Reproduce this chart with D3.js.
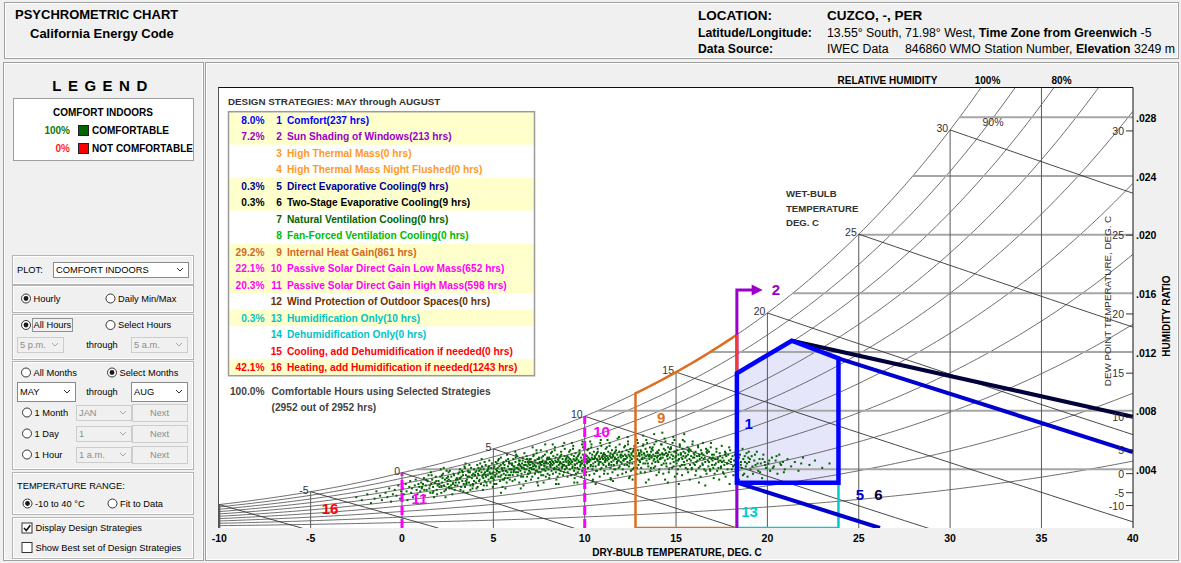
<!DOCTYPE html>
<html><head><meta charset="utf-8">
<script src="https://cdn.jsdelivr.net/npm/d3@7"></script>
<style>
body{margin:0;background:#f0f0f0;}
svg{display:block;font-family:"Liberation Sans",Arial,sans-serif;}
</style></head><body>
<svg id="chart" width="1181" height="563"></svg>
<script>
// ---------- chart values ----------
const dryBulbTicks = [-10, -5, 0, 5, 10, 15, 20, 25, 30, 35, 40];
const dryBulbGrid = [-10, -5, 0, 5, 10, 15, 20, 25, 30, 35];
const humidityTicks = [0.004, 0.008, 0.012, 0.016, 0.020, 0.024, 0.028];
const humidityTickLabels = [".004", ".008", ".012", ".016", ".020", ".024", ".028"];
const wetBulbLines = [-10, -5, 0, 5, 10, 15, 20, 25, 30];
const wetBulbLabels = [-5, 0, 5, 10, 15, 20, 25, 30];
const dewPointTicks = [-10, -5, 0, 5, 10, 15, 20, 25, 30];
const rhCurves = [0.1, 0.2, 0.3, 0.4, 0.5, 0.6, 0.7, 0.8, 0.9, 1.0];

const strategyNames = [
  "Comfort(237 hrs)", "Sun Shading of Windows(213 hrs)", "High Thermal Mass(0 hrs)",
  "High Thermal Mass Night Flushed(0 hrs)", "Direct Evaporative Cooling(9 hrs)",
  "Two-Stage Evaporative Cooling(9 hrs)", "Natural Ventilation Cooling(0 hrs)",
  "Fan-Forced Ventilation Cooling(0 hrs)", "Internal Heat Gain(861 hrs)",
  "Passive Solar Direct Gain Low Mass(652 hrs)", "Passive Solar Direct Gain High Mass(598 hrs)",
  "Wind Protection of Outdoor Spaces(0 hrs)", "Humidification Only(10 hrs)",
  "Dehumidification Only(0 hrs)", "Cooling, add Dehumidification if needed(0 hrs)",
  "Heating, add Humidification if needed(1243 hrs)"];
const strategyShare = ["8.0%", "7.2%", "", "", "0.3%", "0.3%", "", "", "29.2%", "22.1%", "20.3%", "", "0.3%", "", "", "42.1%"];
const totalShare = "100.0%";
const totalHours = "(2952 out of 2952 hrs)";

// strategy zones in (dry-bulb °C, humidity ratio)
const comfortZone = [[18.33, 0.00309], [18.33, 0.01055], [21.33, 0.01277], [23.89, 0.01157], [23.89, 0.00309]];
const directEvapLine = [[23.89, 0.01157], [40, 0.00518]];
const directEvapLower = [[18.33, 0.00309], [26.16, 0]];
const twoStageLine = [[21.33, 0.01277], [40, 0.00759]];
const heatGainRange = [12.78, 18.33];
const sunShadingEdge = [[18.33, 0], [18.33, 0.01623], [19.25, 0.01623]];
const humidifyZone = [[18.33, 0.00309], [18.33, 0], [23.89, 0], [23.89, 0.00309]];
const passiveLowMassT = 10;
const passiveHighMassT = 0;
const comfortTopLeftW = 0.01055;

// hourly observations, May–August: [dry-bulb °C, humidity ratio ×10⁴]
const hourlyPoints = [
[-2.5,21],[-2.2,19],[-1.9,23],[-1.7,17],[-1.5,20],[-1.4,25],[-1.2,22],[-1.1,19],
[-0.9,24],[-0.8,21],[-0.7,27],[-0.6,18],[-0.5,23],[-0.4,26],[-0.3,22],[-0.2,29],[-0.1,20],[-0.05,25],
[0.05,27],[0.1,23],[0.2,30],[0.25,25],[0.3,19],[0.4,28],[0.45,32],[0.5,24],[0.55,27],[0.6,21],[0.7,29],[0.75,33],[0.8,26],[0.85,23],[0.9,30],[0.95,28],
[1.0,25],[1.05,31],[1.1,28],[1.2,34],[1.25,22],[1.3,29],[1.35,26],[1.4,32],[1.45,36],[1.5,27],[1.55,24],[1.6,30],[1.65,33],[1.7,28],[1.75,21],[1.8,31],[1.85,35],[1.9,26],[1.95,29],[1.15,30],[1.58,38],[1.72,25],
[2.0,32],[2.05,28],[2.1,35],[2.15,24],[2.2,31],[2.25,37],[2.3,29],[2.35,33],[2.4,26],[2.45,34],[2.5,30],[2.55,38],[2.6,27],[2.65,32],[2.7,35],[2.75,23],[2.8,31],[2.85,36],[2.9,29],[2.95,33],[2.12,40],[2.38,21],[2.62,39],[2.88,26],[2.48,32],[2.22,34],[2.78,30],[2.58,28],
[3.0,34],[3.03,29],[3.08,37],[3.12,31],[3.17,40],[3.2,26],[3.25,35],[3.3,32],[3.33,38],[3.38,30],[3.42,42],[3.45,28],[3.5,36],[3.55,33],[3.58,24],[3.62,39],[3.67,31],[3.7,35],[3.75,29],[3.78,41],[3.82,34],[3.86,27],[3.9,37],[3.94,32],[3.97,36],[3.15,34],[3.36,25],[3.52,30],[3.64,35],[3.72,38],[3.88,30],[3.48,44],
[4.0,36],[4.04,31],[4.07,39],[4.1,34],[4.14,28],[4.18,41],[4.2,36],[4.25,33],[4.28,44],[4.32,30],[4.35,38],[4.4,35],[4.43,26],[4.47,40],[4.5,37],[4.53,32],[4.58,43],[4.6,35],[4.64,29],[4.68,39],[4.7,36],[4.74,33],[4.78,46],[4.8,38],[4.84,31],[4.88,41],[4.9,35],[4.94,37],[4.97,28],[4.22,39],[4.38,42],[4.55,38],[4.72,40],[4.86,34],[4.45,34],
[5.0,38],[5.03,33],[5.06,42],[5.1,36],[5.13,45],[5.16,30],[5.2,39],[5.24,41],[5.27,35],[5.3,47],[5.34,38],[5.37,32],[5.4,43],[5.44,36],[5.47,40],[5.5,28],[5.53,44],[5.57,37],[5.6,41],[5.63,34],[5.67,39],[5.7,46],[5.73,31],[5.77,38],[5.8,42],[5.83,36],[5.87,40],[5.9,33],[5.93,44],[5.97,38],[5.15,40],[5.33,42],[5.52,39],[5.68,36],[5.85,45],[5.42,24],[5.75,50],[5.58,33],
[6.0,40],[6.03,44],[6.06,36],[6.09,47],[6.12,39],[6.15,42],[6.18,33],[6.21,45],[6.24,38],[6.27,41],[6.3,49],[6.33,36],[6.36,43],[6.39,40],[6.42,31],[6.45,46],[6.48,39],[6.51,42],[6.54,37],[6.57,44],[6.6,48],[6.63,35],[6.66,41],[6.69,43],[6.72,38],[6.75,45],[6.78,32],[6.81,40],[6.84,47],[6.87,42],[6.9,37],[6.93,44],[6.96,39],[6.99,41],[6.2,52],[6.5,27],[6.7,51],[6.4,46],[6.85,35],[6.1,42],
[7.0,43],[7.02,38],[7.05,47],[7.08,41],[7.1,45],[7.13,35],[7.16,44],[7.19,49],[7.22,40],[7.25,43],[7.28,37],[7.31,46],[7.34,42],[7.37,51],[7.4,39],[7.43,44],[7.46,34],[7.49,47],[7.52,41],[7.55,45],[7.58,38],[7.61,43],[7.64,48],[7.67,40],[7.7,46],[7.73,36],[7.76,44],[7.79,42],[7.82,50],[7.85,39],[7.88,45],[7.91,41],[7.94,47],[7.97,37],[7.15,55],[7.45,29],[7.6,53],[7.75,31],[7.9,44],[7.3,42],[7.5,48],[7.85,45],
[8.0,44],[8.02,40],[8.05,48],[8.07,36],[8.1,45],[8.13,42],[8.15,51],[8.18,39],[8.2,46],[8.23,43],[8.26,37],[8.28,49],[8.31,44],[8.34,41],[8.36,53],[8.39,46],[8.42,38],[8.44,45],[8.47,42],[8.5,50],[8.52,35],[8.55,47],[8.58,43],[8.6,40],[8.63,48],[8.66,45],[8.68,39],[8.71,52],[8.74,44],[8.76,41],[8.79,47],[8.82,36],[8.84,45],[8.87,43],[8.9,49],[8.92,40],[8.95,46],[8.98,42],[8.25,57],[8.57,30],[8.8,56],[8.45,33],[8.65,44],[8.12,47],
[9.0,45],[9.02,41],[9.05,49],[9.07,38],[9.1,46],[9.13,43],[9.15,52],[9.18,40],[9.2,47],[9.23,44],[9.26,36],[9.28,50],[9.31,45],[9.34,42],[9.36,54],[9.39,47],[9.42,39],[9.44,46],[9.47,43],[9.5,51],[9.52,37],[9.55,48],[9.58,44],[9.6,41],[9.63,49],[9.66,46],[9.68,40],[9.71,53],[9.74,45],[9.76,42],[9.79,48],[9.82,35],[9.84,46],[9.87,44],[9.9,50],[9.92,41],[9.95,47],[9.98,43],[9.3,58],[9.6,31],[9.85,57],[9.45,34],[9.7,45],[9.12,48],
[10.0,46],[10.02,42],[10.05,50],[10.07,38],[10.1,47],[10.13,44],[10.15,53],[10.18,41],[10.2,48],[10.23,45],[10.26,36],[10.28,51],[10.31,46],[10.34,43],[10.36,55],[10.39,48],[10.42,40],[10.44,47],[10.47,44],[10.5,52],[10.52,37],[10.55,49],[10.58,45],[10.6,42],[10.63,50],[10.66,47],[10.68,39],[10.71,54],[10.74,46],[10.76,43],[10.79,49],[10.82,35],[10.84,47],[10.87,45],[10.9,51],[10.92,41],[10.95,48],[10.98,44],[10.3,59],[10.6,30],[10.85,58],[10.45,33],[10.7,46],[10.12,49],
[11.0,47],[11.03,43],[11.05,51],[11.08,39],[11.1,48],[11.12,45],[11.15,54],[11.17,42],[11.2,49],[11.24,46],[11.26,37],[11.29,52],[11.31,47],[11.33,44],[11.36,56],[11.38,49],[11.41,41],[11.44,48],[11.46,45],[11.49,53],[11.52,38],[11.54,50],[11.57,46],[11.6,43],[11.62,51],[11.65,48],[11.68,40],[11.7,55],[11.73,47],[11.76,44],[11.78,50],[11.81,36],[11.84,48],[11.87,46],[11.89,52],[11.92,42],[11.95,49],[11.97,45],[11.25,60],[11.55,32],[11.8,61],[11.42,34],[11.66,47],[11.11,50],
[12.0,48],[12.03,44],[12.05,52],[12.08,40],[12.1,49],[12.13,46],[12.16,55],[12.18,43],[12.21,50],[12.24,47],[12.26,38],[12.29,53],[12.32,48],[12.34,45],[12.37,57],[12.4,50],[12.42,42],[12.45,49],[12.48,46],[12.5,54],[12.53,39],[12.56,51],[12.58,47],[12.61,44],[12.64,52],[12.66,49],[12.69,41],[12.72,56],[12.74,48],[12.77,45],[12.8,51],[12.83,37],[12.85,49],[12.88,47],[12.91,53],[12.94,43],[12.96,50],[12.99,46],[12.35,62],[12.62,33],[12.86,60],[12.47,35],
[13.0,49],[13.03,45],[13.06,53],[13.09,41],[13.12,50],[13.15,47],[13.18,56],[13.21,44],[13.24,51],[13.27,48],[13.3,38],[13.33,54],[13.36,49],[13.39,46],[13.42,58],[13.45,50],[13.48,42],[13.51,49],[13.54,47],[13.57,55],[13.6,39],[13.63,52],[13.66,48],[13.69,44],[13.72,53],[13.75,50],[13.78,41],[13.81,57],[13.84,49],[13.87,45],[13.9,51],[13.93,36],[13.96,48],[13.99,46],[13.2,63],[13.5,33],[13.8,64],[13.35,31],[13.65,49],[13.1,52],
[14.0,49],[14.03,45],[14.06,53],[14.09,40],[14.12,50],[14.15,47],[14.18,57],[14.21,43],[14.24,51],[14.27,48],[14.3,37],[14.33,54],[14.36,50],[14.39,46],[14.42,59],[14.45,51],[14.48,42],[14.51,49],[14.54,47],[14.57,55],[14.6,38],[14.63,52],[14.66,48],[14.69,44],[14.72,54],[14.75,50],[14.78,41],[14.81,58],[14.84,49],[14.87,45],[14.9,52],[14.93,35],[14.96,48],[14.99,46],[14.25,65],[14.55,31],[14.85,62],[14.4,33],
[15.0,49],[15.03,44],[15.06,53],[15.1,40],[15.13,50],[15.16,47],[15.2,57],[15.23,42],[15.26,51],[15.3,48],[15.33,36],[15.36,54],[15.4,49],[15.43,45],[15.46,59],[15.5,51],[15.53,41],[15.56,49],[15.6,46],[15.63,55],[15.66,38],[15.7,52],[15.73,47],[15.76,43],[15.8,53],[15.83,49],[15.86,40],[15.9,57],[15.93,48],[15.96,44],[15.15,30],[15.45,64],[15.75,33],[15.35,47],[15.65,50],
[16.0,48],[16.03,43],[16.07,52],[16.1,39],[16.14,49],[16.17,46],[16.2,56],[16.24,41],[16.27,50],[16.3,47],[16.34,35],[16.37,53],[16.4,48],[16.44,44],[16.47,58],[16.5,50],[16.54,40],[16.57,48],[16.6,45],[16.64,54],[16.67,37],[16.7,51],[16.74,46],[16.77,42],[16.8,52],[16.84,48],[16.87,39],[16.9,55],[16.94,47],[16.97,43],[16.25,31],[16.6,29],
[17.0,46],[17.04,41],[17.07,50],[17.11,37],[17.14,47],[17.18,44],[17.21,54],[17.25,39],[17.29,48],[17.32,45],[17.36,33],[17.39,51],[17.43,46],[17.46,42],[17.5,56],[17.54,48],[17.57,38],[17.61,46],[17.64,43],[17.68,52],[17.71,35],[17.75,49],[17.79,44],[17.82,40],[17.86,50],[17.89,46],[17.93,30],[17.96,53],
[18.0,45],[18.05,40],[18.09,49],[18.14,36],[18.18,46],[18.23,43],[18.27,52],[18.32,38],[18.36,47],[18.41,44],[18.45,33],[18.5,50],[18.55,45],[18.59,41],[18.64,54],[18.68,47],[18.73,37],[18.77,45],[18.82,42],[18.86,51],[18.91,35],[18.95,48],
[19.0,45],[19.07,40],[19.14,49],[19.21,37],[19.28,46],[19.35,43],[19.42,52],[19.5,39],[19.57,47],[19.64,44],[19.71,34],[19.78,50],[19.85,45],[19.92,41],
[20.05,44],[20.15,39],[20.25,48],[20.35,42],[20.45,46],[20.55,37],[20.65,50],[20.75,43],[20.85,45],[20.95,40],
[21.1,47],[21.3,42],[21.5,45],[21.7,39],[21.85,44],[21.95,48],
[22.3,43],[22.6,46],[23.0,41],[23.4,44],
[1.08,27],[1.33,33],[1.52,29],[1.68,24],[1.88,32],[1.22,26],[1.62,36],[1.92,23],
[2.04,30],[2.18,36],[2.32,25],[2.44,39],[2.56,33],[2.68,29],[2.82,37],[2.94,31],[2.28,41],[2.72,27],[2.16,28],[2.52,35],
[3.04,33],[3.14,38],[3.24,28],[3.34,36],[3.44,41],[3.54,31],[3.64,38],[3.74,26],[3.84,36],[3.94,40],[3.19,34],[3.49,32],[3.69,43],[3.89,29],[3.29,39],[3.59,35],
[4.02,38],[4.12,43],[4.22,32],[4.3,40],[4.42,36],[4.52,45],[4.62,31],[4.73,41],[4.82,37],[4.92,44],[4.08,27],[4.36,47],[4.66,39],[4.96,34],[4.16,37],[4.48,29],[4.76,42],[4.57,36],
[5.02,41],[5.11,35],[5.21,44],[5.31,38],[5.41,48],[5.51,33],[5.61,43],[5.71,39],[5.81,47],[5.91,36],[5.06,30],[5.26,46],[5.46,41],[5.66,27],[5.86,44],[5.96,40],[5.18,37],[5.38,35],[5.56,45],[5.78,34],
[6.02,43],[6.11,38],[6.22,48],[6.31,41],[6.41,44],[6.52,35],[6.61,46],[6.71,40],[6.82,49],[6.92,37],[6.05,32],[6.25,50],[6.45,43],[6.65,29],[6.89,45],[6.98,47],[6.15,40],[6.35,38],[6.56,41],[6.77,43],
[7.01,45],[7.11,40],[7.21,50],[7.32,39],[7.42,47],[7.51,42],[7.62,36],[7.72,49],[7.81,44],[7.92,52],[7.06,33],[7.26,46],[7.47,38],[7.66,45],[7.87,35],[7.96,48],[7.17,42],[7.36,53],[7.57,44],[7.77,40],[7.41,31],[7.84,57],
[8.01,47],[8.11,43],[8.21,52],[8.32,40],[8.41,48],[8.51,45],[8.62,37],[8.72,50],[8.81,43],[8.91,54],[8.06,34],[8.27,45],[8.46,40],[8.67,49],[8.86,38],[8.97,47],[8.16,44],[8.37,55],[8.56,46],[8.77,42],[8.43,30],[8.88,58],
[9.01,48],[9.11,44],[9.21,53],[9.32,41],[9.41,49],[9.51,46],[9.62,38],[9.72,51],[9.81,44],[9.91,55],[9.06,35],[9.27,46],[9.46,41],[9.67,50],[9.86,39],[9.97,48],[9.16,45],[9.37,56],[9.56,47],[9.77,43],[9.43,31],[9.88,59],
[10.01,49],[10.11,45],[10.21,54],[10.32,42],[10.41,50],[10.51,47],[10.62,39],[10.72,52],[10.81,45],[10.91,56],[10.06,36],[10.27,47],[10.46,42],[10.67,51],[10.86,40],[10.97,49],[10.16,46],[10.37,57],[10.56,48],[10.77,44],[10.43,32],[10.88,60],
[11.01,50],[11.11,46],[11.21,55],[11.32,43],[11.41,51],[11.51,48],[11.62,40],[11.72,53],[11.81,46],[11.91,57],[11.06,37],[11.27,48],[11.46,43],[11.67,52],[11.86,41],[11.97,50],[11.16,47],[11.37,58],[11.56,49],[11.77,45],[11.43,33],[11.88,62],
[12.01,50],[12.11,46],[12.21,56],[12.32,43],[12.41,52],[12.51,48],[12.62,40],[12.72,54],[12.81,47],[12.91,58],[12.06,37],[12.27,49],[12.46,44],[12.67,53],[12.86,41],[12.97,51],[12.16,47],[12.37,59],[12.56,50],[12.77,45],[12.43,34],
[13.01,51],[13.11,47],[13.21,57],[13.32,44],[13.41,52],[13.51,49],[13.62,41],[13.72,55],[13.81,47],[13.91,59],[13.06,38],[13.27,50],[13.46,44],[13.67,54],[13.86,42],[13.97,52],[13.16,48],[13.37,60],[13.56,50],[13.77,46],
[14.01,51],[14.11,47],[14.21,57],[14.32,44],[14.41,53],[14.51,49],[14.62,40],[14.72,55],[14.81,47],[14.91,60],[14.06,38],[14.27,50],[14.46,44],[14.67,54],[14.86,42],[14.97,52],[14.16,48],[14.37,61],[14.56,50],
[15.01,51],[15.11,46],[15.21,56],[15.32,43],[15.41,52],[15.51,48],[15.62,40],[15.72,54],[15.81,46],[15.91,59],[15.06,37],[15.27,50],[15.46,43],[15.67,53],[15.86,41],[15.97,51],[15.16,47],[15.37,60],
[16.01,50],[16.11,45],[16.21,55],[16.32,42],[16.41,51],[16.51,47],[16.62,39],[16.72,53],[16.81,45],[16.91,58],[16.06,36],[16.27,49],[16.46,43],[16.67,52],[16.86,40],[16.97,50],
[17.01,48],[17.11,43],[17.21,52],[17.32,41],[17.41,49],[17.51,45],[17.62,37],[17.72,51],[17.81,44],[17.91,55],[17.06,34],[17.27,47],[17.46,41],[17.67,50],
[18.02,47],[18.12,42],[18.22,50],[18.34,40],[18.44,48],[18.54,43],[18.66,36],[18.76,49],[18.88,44],[18.98,52],
[19.04,47],[19.18,42],[19.32,50],[19.46,44],[19.6,38],[19.74,47],[19.88,43],
[20.1,46],[20.3,41],[20.5,49],[20.7,44],[20.9,38]
];

// ---------- psychrometrics (sea-level pressure) ----------
const P_ATM = 101.325;
function pws(t) {
  return t >= 0 ? 0.61094 * Math.exp(17.625 * t / (t + 243.04))
                : 0.61115 * Math.exp(22.452 * t / (272.55 + t));
}
function wAt(t, rh) { const pw = rh * pws(t); return 0.622 * pw / (P_ATM - pw); }
function wWetBulb(t, twb) {
  const ws = wAt(twb, 1);
  if (twb >= 0) return ((2501 - 2.326 * twb) * ws - 1.006 * (t - twb)) / (2501 + 1.86 * t - 4.186 * twb);
  return ((2830 - 0.24 * twb) * ws - 1.006 * (t - twb)) / (2830 + 1.86 * t - 2.1 * twb);
}
function tAtSaturation(w) {
  let lo = -20, hi = 60;
  for (let i = 0; i < 60; i++) { const m = (lo + hi) / 2; if (wAt(m, 1) < w) lo = m; else hi = m; }
  return (lo + hi) / 2;
}

// ---------- drawing ----------
const svg = d3.select("#chart");

function txt(g, x, y, s, o = {}) {
  const t = g.append("text").attr("x", x).attr("y", y).text(s)
    .attr("font-size", o.size || 10)
    .attr("fill", o.fill || "#000")
    .attr("text-anchor", o.anchor || "start");
  if (o.bold) t.attr("font-weight", "bold");
  if (o.ls) t.attr("letter-spacing", o.ls);
  return t;
}
function frame(x, yy, w, h) {
  svg.append("rect").attr("x", x + 0.5).attr("y", yy + 0.5).attr("width", w).attr("height", h)
    .attr("fill", "none").attr("stroke", "#a0a0a0");
  svg.append("rect").attr("x", x + 1.5).attr("y", yy + 1.5).attr("width", w - 2).attr("height", h - 2)
    .attr("fill", "none").attr("stroke", "#ffffff");
}

// header
frame(4, 2, 1174, 56);
const head = svg.append("g");
txt(head, 15, 19, "PSYCHROMETRIC CHART", { size: 13, bold: true });
txt(head, 30, 37.5, "California Energy Code", { size: 13, bold: true });
txt(head, 698, 20, "LOCATION:", { size: 13.5, bold: true });
txt(head, 827, 20, "CUZCO, -, PER", { size: 13.5, bold: true });
txt(head, 698, 37, "Latitude/Longitude:", { size: 12.2, bold: true });
const lat = txt(head, 827, 37, "", { size: 12.3 });
lat.append("tspan").text("13.55° South, 71.98° West, ");
lat.append("tspan").attr("font-weight", "bold").text("Time Zone from Greenwich");
lat.append("tspan").text(" -5");
txt(head, 698, 53, "Data Source:", { size: 12.2, bold: true });
const src = txt(head, 827, 53, "", { size: 12.3 });
src.append("tspan").text("IWEC Data");
src.append("tspan").attr("x", 905).text("846860 WMO Station Number, ");
src.append("tspan").attr("font-weight", "bold").text("Elevation");
src.append("tspan").text(" 3249 m");

// left control panel
frame(3, 62, 200, 498);
const lp = svg.append("g");
txt(lp, 103, 91, "LEGEND", { size: 15, bold: true, anchor: "middle", ls: 6.5 });
lp.append("rect").attr("x", 13.5).attr("y", 98.5).attr("width", 180).attr("height", 62)
  .attr("fill", "#fff").attr("stroke", "#a0a0a0");
txt(lp, 103, 115.5, "COMFORT INDOORS", { size: 10, bold: true, anchor: "middle" });
txt(lp, 70, 133.5, "100%", { size: 10, bold: true, anchor: "end", fill: "#0a7a0a" });
lp.append("rect").attr("x", 78.5).attr("y", 125.5).attr("width", 10).attr("height", 10).attr("fill", "#006400").attr("stroke", "#222");
txt(lp, 92, 133.5, "COMFORTABLE", { size: 10, bold: true });
txt(lp, 70, 151.5, "0%", { size: 10, bold: true, anchor: "end", fill: "#ff1a1a" });
lp.append("rect").attr("x", 78.5).attr("y", 143.5).attr("width", 10).attr("height", 10).attr("fill", "#ff0000").attr("stroke", "#222");
txt(lp, 92, 151.5, "NOT COMFORTABLE", { size: 10, bold: true });

[[255, 29], [285, 27], [314, 45], [361, 108], [472, 42], [517, 41]].forEach(([yy, h]) => {
  lp.append("rect").attr("x", 12.5).attr("y", yy + 0.5).attr("width", 181).attr("height", h)
    .attr("fill", "none").attr("stroke", "#b4b4b4");
  lp.append("rect").attr("x", 13.5).attr("y", yy + 1.5).attr("width", 179).attr("height", h - 2)
    .attr("fill", "none").attr("stroke", "#ffffff");
});

const PS = 9.3;
function dropdown(x, yy, w, h, label, enabled) {
  lp.append("rect").attr("x", x + 0.5).attr("y", yy + 0.5).attr("width", w).attr("height", h)
    .attr("fill", enabled ? "#fff" : "#f0f0f0").attr("stroke", enabled ? "#8a8a8a" : "#cccccc");
  txt(lp, x + 3, yy + h / 2 + 3.3, label, { size: PS, fill: enabled ? "#000" : "#8c8c8c" });
  const cx = x + w - 8, cy = yy + h / 2;
  lp.append("path").attr("d", `M${cx - 3},${cy - 1.5}L${cx},${cy + 1.5}L${cx + 3},${cy - 1.5}`)
    .attr("fill", "none").attr("stroke", enabled ? "#333" : "#a8a8a8").attr("stroke-width", 1);
}
function button(x, yy, w, h, label) {
  lp.append("rect").attr("x", x + 0.5).attr("y", yy + 0.5).attr("width", w).attr("height", h)
    .attr("fill", "#f0f0f0").attr("stroke", "#cccccc");
  txt(lp, x + w / 2, yy + h / 2 + 3.3, label, { size: PS, fill: "#8c8c8c", anchor: "middle" });
}
function radio(cx, cy, label, on) {
  lp.append("circle").attr("cx", cx).attr("cy", cy).attr("r", 4.5).attr("fill", "#fff").attr("stroke", "#333");
  if (on) lp.append("circle").attr("cx", cx).attr("cy", cy).attr("r", 2.4).attr("fill", "#1a1a1a");
  return txt(lp, cx + 7.5, cy + 3.3, label, { size: PS });
}
function checkbox(x, cy, label, on) {
  lp.append("rect").attr("x", x + 0.5).attr("y", cy - 5).attr("width", 10).attr("height", 10).attr("fill", "#fff").attr("stroke", "#333");
  if (on) lp.append("path").attr("d", `M${x + 2.5},${cy}L${x + 4.8},${cy + 2.5}L${x + 8.8},${cy - 2.8}`)
    .attr("fill", "none").attr("stroke", "#111").attr("stroke-width", 1.6);
  txt(lp, x + 14, cy + 3.3, label, { size: PS });
}
txt(lp, 17, 272.5, "PLOT:", { size: PS });
dropdown(53, 262, 135, 15, "COMFORT INDOORS", true);
radio(26, 298.5, "Hourly", true);
radio(110.5, 298.5, "Daily Min/Max", false);
radio(26, 325, "All Hours", true);
lp.append("rect").attr("x", 32.5).attr("y", 318.5).attr("width", 40).attr("height", 13)
  .attr("fill", "none").attr("stroke", "#333").attr("stroke-dasharray", "1,1");
radio(110.5, 325, "Select Hours", false);
dropdown(17, 337, 46, 15, "5 p.m.", false);
txt(lp, 102, 347.5, "through", { size: PS, anchor: "middle" });
dropdown(131, 337, 56, 15, "5 a.m.", false);
radio(26, 372.5, "All Months", false);
radio(112, 372.5, "Select Months", true);
dropdown(17, 382, 58, 19, "MAY", true);
txt(lp, 102, 395, "through", { size: PS, anchor: "middle" });
dropdown(131, 382, 56, 19, "AUG", true);
radio(27, 412.5, "1 Month", false);
dropdown(76, 405, 55, 15, "JAN", false);
button(132, 404, 55, 17, "Next");
radio(27, 433.5, "1 Day", false);
dropdown(76, 426, 55, 15, "1", false);
button(132, 425, 55, 17, "Next");
radio(27, 454.5, "1 Hour", false);
dropdown(76, 447, 55, 15, "1 a.m.", false);
button(132, 446, 55, 17, "Next");
txt(lp, 17, 488.5, "TEMPERATURE RANGE:", { size: PS });
radio(27.5, 503.5, "-10 to 40 °C", true);
radio(112.5, 503.5, "Fit to Data", false);
checkbox(21.5, 528, "Display Design Strategies", true);
checkbox(21.5, 547.5, "Show Best set of Design Strategies", false);

// chart panel
frame(205, 62, 973, 498);
const x = d3.scaleLinear().domain([-10, 40]).range([219.3, 1132.8]);
const y = d3.scaleLinear().domain([0, 0.030]).range([528, 88]);
const plot = { left: 218, right: 1133, top: 87.5, bottom: 528 };

svg.append("rect").attr("x", plot.left).attr("y", plot.top).attr("width", plot.right - plot.left)
  .attr("height", plot.bottom - plot.top).attr("fill", "#fff");
svg.append("defs").append("clipPath").attr("id", "plotClip").append("rect")
  .attr("x", plot.left + 1).attr("y", plot.top + 0.5).attr("width", plot.right - plot.left - 1)
  .attr("height", plot.bottom - plot.top - 0.5);
const g = svg.append("g").attr("clip-path", "url(#plotClip)");
const line = d3.line().x(d => x(d[0])).y(d => y(d[1]));
const tSamples = d3.range(-10, 40.001, 0.25);

// comfort zone fill under the grid
g.append("path").datum(comfortZone).attr("d", d => line(d) + "Z").attr("fill", "#e6e6fa");

// relative humidity curves
rhCurves.forEach(rh => {
  g.append("path").datum(tSamples.map(t => [t, wAt(t, rh)]))
    .attr("d", line).attr("fill", "none").attr("stroke", "#4a4a4a").attr("stroke-width", 0.8);
});
// humidity ratio grid lines
humidityTicks.forEach(w => {
  g.append("path").datum([[tAtSaturation(w), w], [40, w]]).attr("d", line)
    .attr("stroke", "#a6a6a6").attr("stroke-width", 2);
});
// dry-bulb grid lines
dryBulbGrid.forEach(t => {
  g.append("path").datum([[t, 0], [t, Math.min(wAt(t, 1), 0.031)]]).attr("d", line)
    .attr("stroke", "#5a5a5a").attr("stroke-width", t === -10 ? 2 : 1);
});
// wet-bulb lines
wetBulbLines.forEach(twb => {
  const pts = [];
  for (let t = twb; t <= 40.001; t += 0.5) {
    const w = wWetBulb(t, twb);
    pts.push([t, w]);
    if (w < 0) break;
  }
  g.append("path").datum(pts).attr("d", line).attr("fill", "none")
    .attr("stroke", "#333").attr("stroke-width", 0.9);
});
// wet-bulb labels on the saturation curve
wetBulbLabels.forEach(twb => {
  txt(g, x(twb) - 2, y(wAt(twb, 1)) + 2, String(twb), { size: 10.5, fill: "#333", anchor: "end" });
});
txt(g, x(32.35), y(0.02744), "90%", { size: 10.5, fill: "#333", anchor: "middle" });

// hourly observations
g.append("g").selectAll("rect").data(hourlyPoints).join("rect")
  .attr("x", d => x(d[0]) - 1).attr("y", d => y(d[1] / 10000) - 1)
  .attr("width", 2).attr("height", 2).attr("fill", "#006400");

// internal heat gain (9)
const heatCurve = [[heatGainRange[1], 0], [heatGainRange[0], 0]];
for (let t = heatGainRange[0]; t < heatGainRange[1]; t += 0.25) heatCurve.push([t, wAt(t, 1)]);
heatCurve.push([heatGainRange[1], wAt(heatGainRange[1], 1)]);
g.append("path").datum(heatCurve).attr("d", line).attr("fill", "none")
  .attr("stroke", "#dc6e22").attr("stroke-width", 2.5);

// passive solar (10, 11)
[passiveLowMassT, passiveHighMassT].forEach(t => {
  g.append("path").datum([[t, 0], [t, wAt(t, 1)]]).attr("d", line)
    .attr("stroke", "#ff00ff").attr("stroke-width", 3).attr("stroke-dasharray", "9,4");
});

// humidification only (13)
g.append("path").datum(humidifyZone).attr("d", line).attr("fill", "none")
  .attr("stroke", "#00cccc").attr("stroke-width", 2.5);

// sun shading (2) with arrow
g.append("path").datum(sunShadingEdge).attr("d", line).attr("fill", "none")
  .attr("stroke", "#9900cc").attr("stroke-width", 3);
{
  const ax = x(sunShadingEdge[2][0]), ay = y(sunShadingEdge[2][1]);
  g.append("path").attr("d", `M${ax - 2},${ay - 5.5}L${ax + 9},${ay}L${ax - 2},${ay + 5.5}Z`).attr("fill", "#9900cc");
}
// segment shared by the heat-gain edge and the shading edge
g.append("path").datum([[heatGainRange[1], wAt(heatGainRange[1], 1)], [heatGainRange[1], comfortTopLeftW]])
  .attr("d", line).attr("stroke", "#f03a3a").attr("stroke-width", 3);

// evaporative cooling (5, 6)
g.append("path").datum(directEvapLine).attr("d", line).attr("stroke", "#0000cc").attr("stroke-width", 4);
g.append("path").datum(directEvapLower).attr("d", line).attr("stroke", "#0000cc").attr("stroke-width", 4);
g.append("path").datum(twoStageLine).attr("d", line).attr("stroke", "#00003a").attr("stroke-width", 4);

// comfort zone (1)
g.append("path").datum(comfortZone).attr("d", d => line(d) + "Z").attr("fill", "none")
  .attr("stroke", "#0000ff").attr("stroke-width", 4.5).attr("stroke-linejoin", "miter");

// zone numbers
const zl = { size: 15, bold: true, anchor: "middle" };
txt(g, x(20.47), y(0.01589), "2", { ...zl, fill: "#9900cc" });
txt(g, x(18.97), y(0.00675), "1", { ...zl, fill: "#0000ff" });
txt(g, x(19.02), y(0.00077), "13", { ...zl, fill: "#00cccc" });
txt(g, x(25.07), y(0.00191), "5", { ...zl, fill: "#0000cc" });
txt(g, x(26.08), y(0.00191), "6", { ...zl, fill: "#00003a" });
txt(g, x(14.18), y(0.00716), "9", { ...zl, fill: "#dc6e22" });
txt(g, x(10.92), y(0.00622), "10", { ...zl, fill: "#ff00ff" });
txt(g, x(0.96), y(0.00164), "11", { ...zl, fill: "#ff00ff" });
txt(g, x(-3.94), y(0.00095), "16", { ...zl, fill: "#ff0000" });

// plot borders
svg.append("line").attr("x1", plot.left).attr("x2", plot.right).attr("y1", plot.top).attr("y2", plot.top).attr("stroke", "#111");
svg.append("line").attr("x1", plot.left + 0.5).attr("x2", plot.left + 0.5).attr("y1", plot.top).attr("y2", plot.bottom).attr("stroke", "#555");
svg.append("line").attr("x1", plot.right).attr("x2", plot.right).attr("y1", plot.top).attr("y2", plot.bottom).attr("stroke", "#111");

// dew point ticks on the right edge
const ax = svg.append("g");
dewPointTicks.forEach(td => {
  const yy = y(wAt(td, 1));
  ax.append("line").attr("x1", plot.right - 7).attr("x2", plot.right).attr("y1", yy + 1).attr("y2", yy + 1).attr("stroke", "#333");
  txt(ax, plot.right - 9, yy + 5, String(td), { size: 10.5, fill: "#333", anchor: "end" });
});
txt(ax, 0, 0, "DEW POINT TEMPERATURE, DEG. C", { size: 9.8, fill: "#333", anchor: "middle" })
  .attr("transform", "translate(1111,301) rotate(-90)");
// humidity ratio axis
humidityTicks.forEach((w, i) => {
  txt(ax, 1136, y(w) + 4.5, humidityTickLabels[i], { size: 10.5, bold: true });
});
txt(ax, 0, 0, "HUMIDITY RATIO", { size: 10, bold: true, anchor: "middle" })
  .attr("transform", "translate(1170,316) rotate(-90)");
// dry-bulb axis
dryBulbTicks.forEach(t => {
  txt(ax, x(t), 541.5, String(t), { size: 10.5, bold: true, anchor: "middle" });
});
txt(ax, 677, 555.5, "DRY-BULB TEMPERATURE, DEG. C", { size: 10, bold: true, anchor: "middle" });
// relative humidity header
txt(ax, 887.5, 84, "RELATIVE HUMIDITY", { size: 10, bold: true, anchor: "middle" });
txt(ax, x(32.05), 84, "100%", { size: 10, bold: true, anchor: "middle" });
txt(ax, x(36.1), 84, "80%", { size: 10, bold: true, anchor: "middle" });
// wet-bulb caption
txt(ax, 786, 197, "WET-BULB", { size: 9.6, bold: true, fill: "#333" });
txt(ax, 786, 211.5, "TEMPERATURE", { size: 9.6, bold: true, fill: "#333" });
txt(ax, 786, 225.5, "DEG. C", { size: 9.6, bold: true, fill: "#333" });

// design strategy table
const strategyColors = ["#0000ff", "#9900cc", "#ff9a1f", "#ff9a1f", "#000099", "#000000", "#006600", "#00bb00",
  "#d2691e", "#ff00ff", "#ff00ff", "#663300", "#00c4c4", "#00c4c4", "#ff0000", "#ff0000"];
const tb = svg.append("g");
txt(tb, 228, 105, "DESIGN STRATEGIES:  MAY through AUGUST", { size: 9.8, bold: true, fill: "#333" });
const rowTop = 111.7, rowH = 16.5;
tb.append("rect").attr("x", 228.5).attr("y", rowTop).attr("width", 306).attr("height", rowH * 16).attr("fill", "#fff");
strategyNames.forEach((name, i) => {
  const top = rowTop + i * rowH, base = top + rowH / 2 + 3.7;
  if (strategyShare[i]) tb.append("rect").attr("x", 229).attr("y", top).attr("width", 305).attr("height", rowH).attr("fill", "#ffffcc");
  const c = strategyColors[i];
  if (strategyShare[i]) txt(tb, 264.5, base, strategyShare[i], { size: 10.2, bold: true, fill: c, anchor: "end" });
  txt(tb, 282, base, String(i + 1), { size: 10.2, bold: true, fill: c, anchor: "end" });
  txt(tb, 287, base, name, { size: 10.2, bold: true, fill: c });
});
tb.append("rect").attr("x", 228.5).attr("y", rowTop).attr("width", 306).attr("height", rowH * 16)
  .attr("fill", "none").attr("stroke", "#9a9a9a").attr("stroke-width", 1.5);
txt(tb, 264.5, 394.5, totalShare, { size: 10.2, bold: true, fill: "#444", anchor: "end" });
txt(tb, 271.5, 394.5, "Comfortable Hours using Selected Strategies", { size: 10.2, bold: true, fill: "#444" });
txt(tb, 271.5, 410.5, totalHours, { size: 10.2, bold: true, fill: "#444" });
</script>
</body></html>
